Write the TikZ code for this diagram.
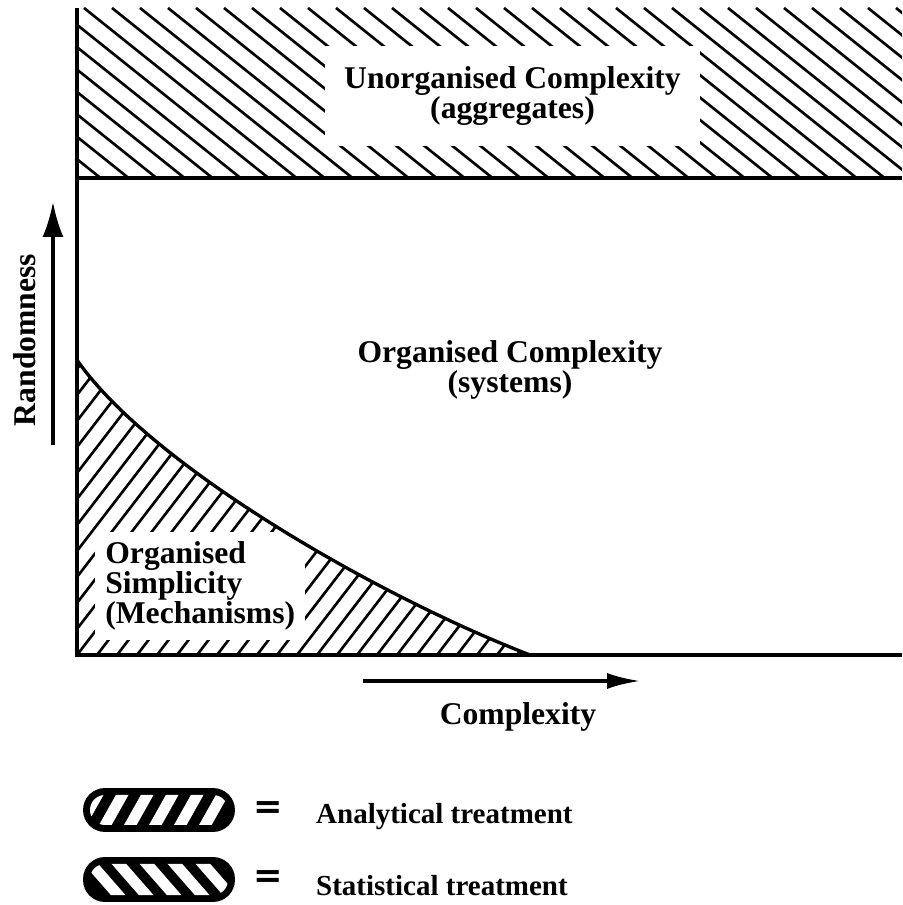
\documentclass[tikz,border=0pt]{standalone}
\usepackage{fontspec}
\setmainfont{Liberation Serif}
\newfontfamily\eqfont{DejaVu Sans}
\usetikzlibrary{arrows.meta}

\begin{document}
\begin{tikzpicture}[
    axis/.style={line width=1.9pt},
    hatchline/.style={line width=1.5pt},
    regionlabel/.style={font=\bfseries\fontsize{18}{17}\selectfont, align=center},
    legendtext/.style={font=\bfseries\fontsize{16.5}{17}\selectfont, anchor=west},
    legendeq/.style={font=\eqfont\bfseries\fontsize{20}{20}\selectfont},
    legendbox/.style={line width=2.8pt, rounded corners=0.39cm, fill=black},
    stripe/.style={white, line width=0.22cm},
  ]

  \useasboundingbox (0,0) rectangle (18.04,18.10);

  %% Randomness against complexity

  % Corners of the diagram
  \coordinate (O) at (1.54,5.0);
  \coordinate (ytop) at (1.54,17.94);
  \coordinate (xend) at (18.04,5.0);
  \coordinate (bandleft) at (1.54,14.54);
  \coordinate (bandright) at (18.04,14.54);
  \coordinate (curvetop) at (1.54,10.9);
  \coordinate (curveend) at (10.6,5.0);

  % Hatching of the top band
  \begin{scope}
    \clip (bandleft) rectangle (18.04,17.94);
    \foreach \i in {-8,...,32}
      \draw[hatchline] (\i*0.56,17.94) -- ++(4.25,-3.4);
  \end{scope}

  % Hatching under the curve
  \begin{scope}
    \clip (curvetop) .. controls (3.0,8.8) and (7.5,6.2) .. (curveend) -- (O) -- cycle;
    \foreach \i in {-12,...,26}
      \draw[hatchline] (1.54+\i*0.4,5.0) -- ++(5,6.5);
  \end{scope}

  % Region labels
  \node[regionlabel, fill=white, minimum width=7.5cm, minimum height=2cm]
    (unorg) at (10.25,16.18) {Unorganised Complexity\\(aggregates)};
  \node[regionlabel] (org) at (10.2,10.7) {Organised Complexity\\(systems)};
  \node[regionlabel, align=left, fill=white, inner sep=0.2cm, anchor=west]
    (simp) at (1.9,6.38) {Organised\\Simplicity\\(Mechanisms)};

  % Axes, band border and curve
  \draw[axis] (ytop) -- (O) -- (xend);
  \draw[axis] (bandleft) -- (bandright);
  \draw[axis] (curvetop) .. controls (3.0,8.8) and (7.5,6.2) .. (curveend);

  % Randomness arrow
  \coordinate (randlow) at (1.06,9.2);
  \coordinate (randhigh) at (1.06,14.06);
  \draw[axis, -{Latex[length=0.7cm,width=0.42cm]}] (randlow) -- (randhigh);
  \node[regionlabel, rotate=90] (rand) at (0.5,11.3) {Randomness};

  % Complexity arrow
  \coordinate (cplxlow) at (7.26,4.48);
  \coordinate (cplxhigh) at (12.8,4.48);
  \draw[axis, -{Latex[length=0.66cm,width=0.32cm]}] (cplxlow) -- (cplxhigh);
  \node[regionlabel] (cplx) at (10.36,3.76) {Complexity};

  % Legend: analytical
  \draw[legendbox] (1.71,1.51) rectangle (4.65,2.29);
  \begin{scope}
    \clip[rounded corners=0.3cm] (1.8,1.6) rectangle (4.56,2.2);
    \foreach \i in {0,...,6}
      \draw[stripe] (1.55+\i*0.5,1.5) -- ++(0.45,0.8);
  \end{scope}
  \node[legendeq] (eqa) at (5.37,1.9) {=};
  \node[legendtext] (analytic) at (6.2,1.76) {Analytical treatment};

  % Legend: statistical
  \draw[legendbox] (1.71,0.11) rectangle (4.65,0.91);
  \begin{scope}
    \clip[rounded corners=0.3cm] (1.8,0.2) rectangle (4.56,0.82);
    \foreach \i in {0,...,5}
      \draw[stripe] (1.75+\i*0.56,0.9) -- ++(0.7,-0.8);
  \end{scope}
  \node[legendeq] (eqs) at (5.37,0.52) {=};
  \node[legendtext] (statistic) at (6.2,0.38) {Statistical treatment};

\end{tikzpicture}
\end{document}
